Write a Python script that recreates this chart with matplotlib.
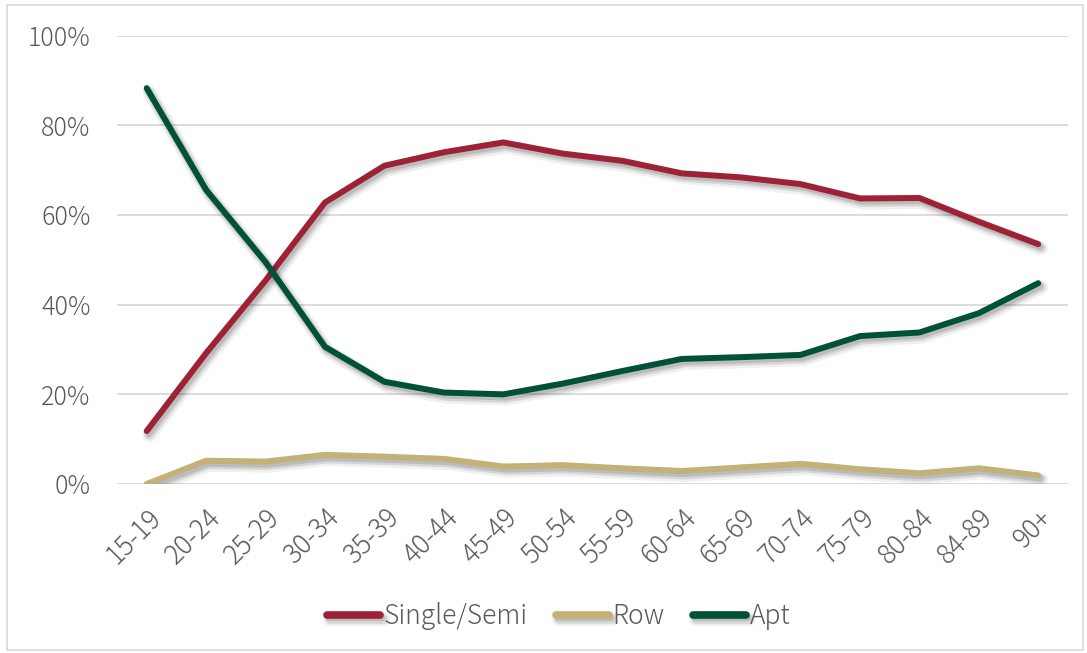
import matplotlib
matplotlib.use("Agg")
import matplotlib.pyplot as plt
import matplotlib.patheffects as pe
from matplotlib.patches import Rectangle
from matplotlib.ticker import PercentFormatter

age_groups = ["15-19", "20-24", "25-29", "30-34", "35-39", "40-44", "45-49", "50-54",
              "55-59", "60-64", "65-69", "70-74", "75-79", "80-84", "84-89", "90+"]
single_semi = [11.8, 29.2, 45.4, 62.8, 71.0, 74.0, 76.2, 73.7, 72.1, 69.3, 68.4, 66.9, 63.7, 63.8, 58.5, 53.5]
row_house = [0.0, 5.2, 5.0, 6.5, 6.1, 5.6, 3.9, 4.2, 3.5, 2.9, 3.7, 4.5, 3.3, 2.4, 3.5, 1.9]
apartment = [88.3, 65.6, 49.5, 30.6, 22.8, 20.4, 20.0, 22.4, 25.2, 27.9, 28.3, 28.8, 33.0, 33.8, 38.1, 44.8]

series_names = ["Single/Semi", "Row", "Apt"]
series_colors = ["#9E2236", "#C4B177", "#00513A"]
text_color = "#595959"
grid_color = "#D9D9D9"

plt.rcParams["font.family"] = ["Noto Sans CJK JP", "DejaVu Sans"]
plt.rcParams["font.weight"] = "light"

fig = plt.figure(figsize=(10.87, 6.53), dpi=100)
ax = fig.add_axes([0.1076, 0.2588, 0.8749, 0.6865])

# soft drop shadow below each line
shadow = [
    pe.SimpleLineShadow(offset=(2.0, -3.0), shadow_color="black", alpha=0.06, linewidth=10),
    pe.SimpleLineShadow(offset=(1.8, -2.6), shadow_color="black", alpha=0.10, linewidth=7),
    pe.SimpleLineShadow(offset=(1.5, -2.2), shadow_color="black", alpha=0.12, linewidth=4.5),
    pe.Normal(),
]

x = list(range(len(age_groups)))
for vals, name, col in zip([single_semi, row_house, apartment], series_names, series_colors):
    ax.plot(x, [v / 100 for v in vals], color=col, lw=4.3, label=name,
            solid_capstyle="round", solid_joinstyle="round", path_effects=shadow, zorder=3)

ax.set_xlim(-0.5, len(age_groups) - 0.5)
ax.set_ylim(0, 1)
ax.set_yticks([0, 0.2, 0.4, 0.6, 0.8, 1.0])
ax.yaxis.set_major_formatter(PercentFormatter(1.0, decimals=0))
ax.set_xticks(x)
ax.set_xticklabels(age_groups, rotation=45, ha="right", rotation_mode="anchor")
ax.tick_params(axis="both", length=0, colors=text_color)
ax.tick_params(axis="y", pad=19, labelsize=18)
ax.tick_params(axis="x", pad=14, labelsize=19)
ax.grid(axis="y", color=grid_color, lw=1.3, zorder=0)
ax.set_axisbelow(True)
for s in ax.spines.values():
    s.set_visible(False)

leg = fig.legend(loc="center", bbox_to_anchor=(0.514, 0.056), ncol=3, frameon=False,
                 fontsize=19, handlelength=2.0, handletextpad=0.12, columnspacing=1.1)
for txt in leg.get_texts():
    txt.set_color(text_color)
for h in leg.get_lines():
    h.set_linewidth(5.5)
    h.set_solid_capstyle("round")

fig.patches.append(Rectangle((7 / 1087, 3 / 653), 1076 / 1087, 645 / 653,
                             transform=fig.transFigure, fill=False,
                             edgecolor="#D9D9D9", lw=1.2))

fig.savefig("out.png", dpi=100)
